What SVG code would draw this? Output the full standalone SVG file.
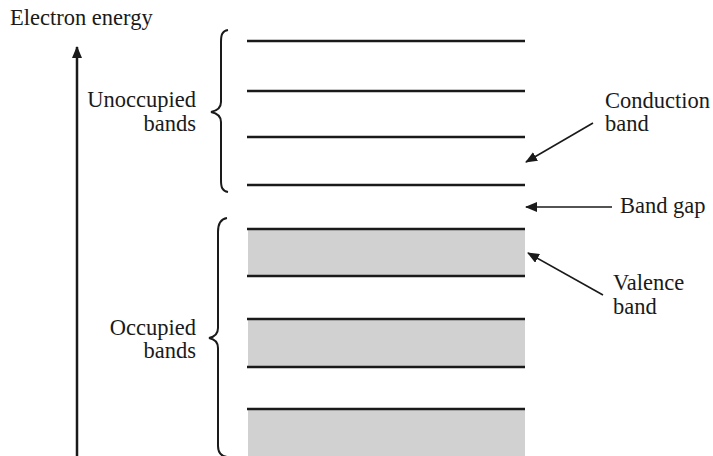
<svg xmlns="http://www.w3.org/2000/svg" width="713" height="456" viewBox="0 0 713 456">
<defs>
<marker id="ah" viewBox="0 0 12 10" refX="11" refY="5" markerWidth="12" markerHeight="10" markerUnits="userSpaceOnUse" orient="auto">
<path d="M0,0 L12,5 L0,10 Z" fill="#1a1a1a"/>
</marker>
<marker id="ahBig" viewBox="0 0 12 10" refX="11" refY="5" markerWidth="12" markerHeight="10" markerUnits="userSpaceOnUse" orient="auto">
<path d="M0,0 L12,5 L0,10 Z" fill="#1a1a1a"/>
</marker>
</defs>
<style>
text{font-family:"Liberation Serif","Times New Roman",serif;font-size:22.5px;fill:#1a1a1a}
.lvl{stroke:#1a1a1a;stroke-width:2.5;fill:none}
.fill{fill:#d0d1d0}
.brace{stroke:#1a1a1a;stroke-width:2;fill:none}
.conn{stroke:#1a1a1a;stroke-width:1.6;fill:none;marker-end:url(#ah)}
</style>
<rect width="713" height="456" fill="#fff"/>

<g id="axis">
<line x1="77" y1="456" x2="77" y2="47" stroke="#1a1a1a" stroke-width="2.5" marker-end="url(#ahBig)"/>
<text x="10" y="25">Electron energy</text>
</g>

<g id="unoccupied-bands">
<line class="lvl" x1="247" y1="41" x2="525" y2="41"/>
<line class="lvl" x1="247" y1="91" x2="525" y2="91"/>
<line class="lvl" x1="247" y1="137" x2="525" y2="137"/>
<line class="lvl" x1="247" y1="185" x2="525" y2="185"/>
</g>

<g id="occupied-bands">
<rect class="fill" x="248" y="230" width="277" height="46"/>
<rect class="fill" x="248" y="320" width="277" height="47"/>
<rect class="fill" x="248" y="410" width="277" height="46"/>
<line class="lvl" x1="247" y1="229" x2="525" y2="229"/>
<line class="lvl" x1="247" y1="276" x2="525" y2="276"/>
<line class="lvl" x1="247" y1="319" x2="525" y2="319"/>
<line class="lvl" x1="247" y1="367" x2="525" y2="367"/>
<line class="lvl" x1="247" y1="409" x2="525" y2="409"/>
</g>

<g id="unoccupied-label">
<path class="brace" d="M228,30 C222,31 221,35 221,42 L221,102 C221,108 216,111 211,112 C216,113 221,116 221,122 L221,180 C221,187 222,191 228,192"/>
<text x="196" y="107" text-anchor="end">Unoccupied</text>
<text x="196" y="131" text-anchor="end">bands</text>
</g>

<g id="occupied-label">
<path class="brace" d="M227,218 C220,219 218,224 218,232 L218,328 C218,334 214,337 209,338 C214,339 218,342 218,348 L218,446 C218,452 220,456 227,457"/>
<text x="196" y="335" text-anchor="end">Occupied</text>
<text x="196" y="358" text-anchor="end">bands</text>
</g>

<g id="conduction-label">
<text x="605" y="108">Conduction</text>
<text x="605" y="131">band</text>
</g>
<g id="bandgap-label">
<text x="620" y="213">Band gap</text>
</g>
<g id="valence-label">
<text x="613" y="290">Valence</text>
<text x="613" y="314">band</text>
</g>

<g id="connectors">
<line class="conn" x1="593" y1="123" x2="526" y2="162"/>
<line class="conn" x1="612" y1="207" x2="526" y2="207"/>
<line class="conn" x1="603" y1="295" x2="528" y2="253"/>
</g>
</svg>
